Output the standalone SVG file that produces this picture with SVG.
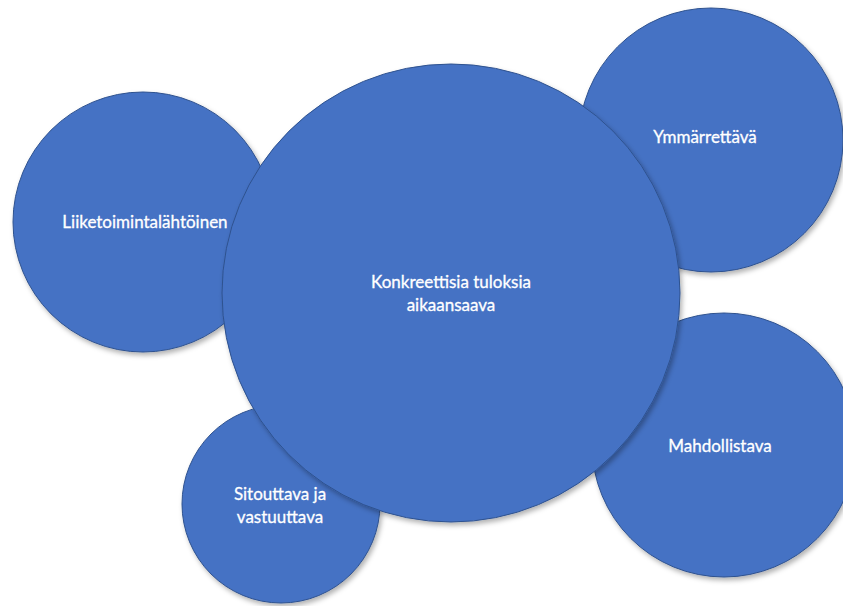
<svg xmlns="http://www.w3.org/2000/svg" width="843" height="606" viewBox="0 0 843 606">
  <defs>
    <filter id="shadow" x="-10%" y="-10%" width="125%" height="125%">
      <feDropShadow dx="2" dy="3" stdDeviation="2.5" flood-color="#000" flood-opacity="0.3"/>
    </filter>
  </defs>
  <style>
    .bubble { fill: #4472C4; stroke: #2F528F; stroke-width: 1; filter: url(#shadow); }
    .label { fill: #FFFFFF; font-family: Lato, "Open Sans", sans-serif; font-size: 17px; text-anchor: middle; stroke: #FFFFFF; stroke-width: 0.3; }
  </style>
  <rect width="843" height="606" fill="#FFFFFF"/>

  <g id="liiketoimintalahtoinen">
    <circle class="bubble" cx="143" cy="222" r="130"/>
    <text class="label" x="145" y="228">Liiketoimintalähtöinen</text>
  </g>

  <g id="ymmarrettava">
    <circle class="bubble" cx="711" cy="140" r="132"/>
    <text class="label" x="705" y="143">Ymmärrettävä</text>
  </g>

  <g id="mahdollistava">
    <circle class="bubble" cx="724" cy="445" r="132"/>
    <text class="label" x="720" y="452">Mahdollistava</text>
  </g>

  <g id="sitouttava">
    <circle class="bubble" cx="281" cy="504" r="99"/>
    <text class="label" x="280" y="500">Sitouttava ja</text>
    <text class="label" x="280" y="523">vastuuttava</text>
  </g>

  <g id="konkreettisia">
    <circle class="bubble" cx="451" cy="293" r="229"/>
    <text class="label" x="451" y="288">Konkreettisia tuloksia</text>
    <text class="label" x="451" y="311">aikaansaava</text>
  </g>

  <g id="connectors"></g>
</svg>
